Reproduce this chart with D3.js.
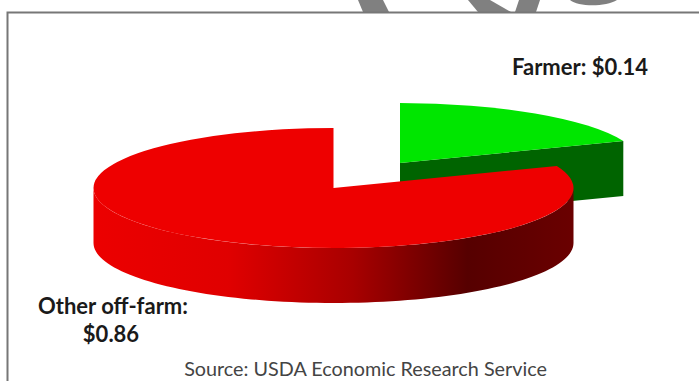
<!DOCTYPE html>
<html>
<head>
<meta charset="utf-8">
<script src="https://cdn.jsdelivr.net/npm/d3@7"></script>
<style>
  html, body { margin: 0; padding: 0; background: #fff; overflow: hidden; }
  svg { display: block; }
  text { font-family: Lato, "Open Sans", sans-serif; }
</style>
</head>
<body>
<svg id="chart" width="699" height="381"></svg>
<script>
// Share of the retail food dollar
const sectors = ["Farmer", "Other off-farm"];
const shares = [0.14, 0.86];
const priceLabels = ["$0.14", "$0.86"];
const sourceNote = "Source: USDA Economic Research Service";

const width = 699, height = 381;
const svg = d3.select("#chart");

// Solid geometry of the tilted pie
const rx = 240, ry = 60, depth = 55;
const mainCentre = { x: 333.5, y: 188 };
const explodedCentre = { x: 400, y: 163 };
const deg = Math.PI / 180;

const slices = d3.pie().sort(null).value(d => d)(shares);

// The tilted view stretches the small wedge: pie angle -> angle on the ellipse
const viewAngle = d3.scaleLinear()
  .domain([0, slices[0].endAngle, 2 * Math.PI])
  .range([0, 68.5 * deg, 2 * Math.PI]);

const unit = 1000;
const arcPath = d3.arc().innerRadius(0).outerRadius(unit);
const wedge = s => arcPath({ startAngle: viewAngle(s.startAngle), endAngle: viewAngle(s.endAngle) });
const rimX = (c, a) => c.x + rx * Math.sin(a);
const rimY = (c, a) => c.y - ry * Math.cos(a);

const defs = svg.append("defs");
const sideFade = defs.append("linearGradient")
  .attr("id", "sideFade")
  .attr("gradientUnits", "userSpaceOnUse")
  .attr("x1", 94).attr("x2", 573).attr("y1", 0).attr("y2", 0);
[[0, "#ec0000"], [0.28, "#e00000"], [0.54, "#a80000"], [0.78, "#560000"], [1, "#6a0000"]]
  .forEach(([o, c]) => sideFade.append("stop").attr("offset", o).attr("stop-color", c));

// Page frame and the strip cut off above it
const strip = svg.append("g").attr("fill", "#808080");
["M358,0L383,0L389,12L363,12Z",
 "M468,0L490,0L511,12L478,12Z",
 "M519,0L540,0L536,12L515,12Z",
 "M570,0C578,7 606,7 617,0Z"].forEach(p => strip.append("path").attr("d", p));

svg.append("path")
  .attr("d", `M7.5,${height}V12.5H${width}`)
  .attr("fill", "none")
  .attr("stroke", "#777")
  .attr("stroke-width", 2);

// Farmer wedge, pulled out behind the larger slice
const tipAngle = viewAngle(slices[0].endAngle);
const tip = { x: rimX(explodedCentre, tipAngle), y: rimY(explodedCentre, tipAngle) };
svg.append("path")
  .attr("d", d3.line()([
    [explodedCentre.x, explodedCentre.y],
    [tip.x, tip.y],
    [tip.x, tip.y + depth],
    [explodedCentre.x, explodedCentre.y + depth]
  ]) + "Z")
  .attr("fill", "#006400");
svg.append("path")
  .attr("d", wedge(slices[0]))
  .attr("transform", `translate(${explodedCentre.x},${explodedCentre.y}) scale(${rx / unit},${ry / unit})`)
  .attr("fill", "#00e600");

// Off-farm slice: outer wall, then top face
const wall = d3.area()
  .x(a => rimX(mainCentre, a))
  .y0(a => rimY(mainCentre, a))
  .y1(a => rimY(mainCentre, a) + depth);
svg.append("path")
  .attr("d", wall(d3.range(90, 271, 2).map(d => d * deg)))
  .attr("fill", "url(#sideFade)");
svg.append("path")
  .attr("d", wedge(slices[1]))
  .attr("transform", `translate(${mainCentre.x},${mainCentre.y}) scale(${rx / unit},${ry / unit})`)
  .attr("fill", "#ee0000");

// Labels
const bold = (x, y, str, anchor) => svg.append("text")
  .attr("x", x).attr("y", y)
  .attr("text-anchor", anchor)
  .attr("font-size", 22).attr("font-weight", 700)
  .attr("fill", "#1a1a1a")
  .text(str);

bold(512, 75, `${sectors[0]}: ${priceLabels[0]}`, "start");
bold(38, 314, `${sectors[1]}:`, "start");
bold(111, 342, priceLabels[1], "middle");

svg.append("text")
  .attr("x", 365.5).attr("y", 376)
  .attr("text-anchor", "middle")
  .attr("font-size", 19.8)
  .attr("fill", "#444")
  .text(sourceNote);
</script>
</body>
</html>
